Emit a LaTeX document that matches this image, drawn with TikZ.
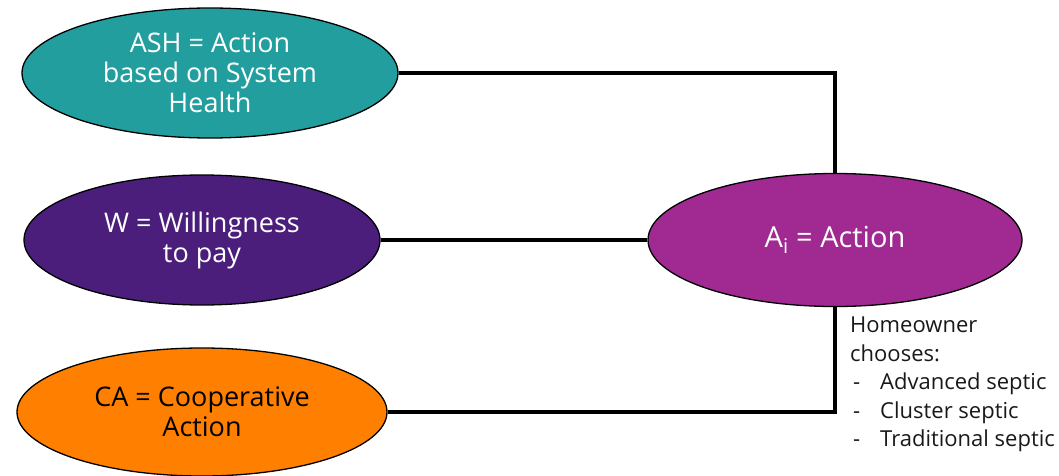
\documentclass[tikz,border=0pt]{standalone}
\usepackage{fontspec}
\setmainfont{Open Sans}
\usetikzlibrary{shapes.geometric}
\definecolor{cteal}{RGB}{35,158,158}
\definecolor{cdpurple}{RGB}{76,30,124}
\definecolor{corange}{RGB}{255,128,0}
\definecolor{cmagenta}{RGB}{160,42,146}
\definecolor{ctext}{RGB}{25,25,25}
\tikzset{
  ell/.style={ellipse, draw=black, line width=1.3pt, inner sep=0pt, align=center,
    font=\fontsize{27}{30}\selectfont, text=white},
  conn/.style={draw=black, line width=3.5pt},
  note/.style={align=left, inner sep=0pt, text=ctext, font=\fontsize{22}{28.5}\selectfont}
}
\begin{document}
\begin{tikzpicture}[x=1pt,y=-1pt]
\useasboundingbox (0,0) rectangle (1059,476);
\node[ell, fill=cteal, minimum width=376pt, minimum height=130pt] (ash) at (210,73) {ASH = Action\\based on System\\Health};
\node[ell, fill=cdpurple, minimum width=356pt, minimum height=130pt] (w) at (202,240) {W = Willingness\\to pay};
\node[ell, fill=corange, text=black, minimum width=370pt, minimum height=128pt] (ca) at (202,412) {CA = Cooperative\\Action};
\node[ell, fill=cmagenta, minimum width=374pt, minimum height=133pt, font=\fontsize{29}{32}\selectfont] (ai) at (835,240) {A\textsubscript{i} = Action};
\draw[conn] (ash.east) -| (ai.north);
\draw[conn] (w.east) -- (ai.west);
\draw[conn] (ca.east) -| (ai.south);
\node[note, anchor=north west] (txt) at (850,317) {Homeowner\\chooses:\\\makebox[30pt][l]{\hspace{3pt}-}Advanced septic\\\makebox[30pt][l]{\hspace{3pt}-}Cluster septic\\\makebox[30pt][l]{\hspace{3pt}-}Traditional septic};
\end{tikzpicture}
\end{document}
